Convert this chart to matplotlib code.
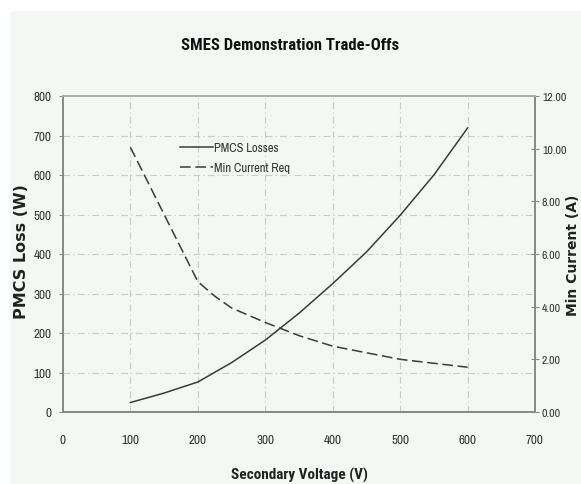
import matplotlib
matplotlib.use("Agg")
import matplotlib.pyplot as plt
from matplotlib.patches import Rectangle

NARROW = ['Archivo Narrow', 'PT Sans Narrow', 'Roboto Condensed', 'DejaVu Sans']
NARROW_BOLD = ['Roboto Condensed', 'PT Sans Narrow', 'DejaVu Sans']

voltage = [100, 150, 200, 250, 300, 350, 400, 450, 500, 550, 600]
pmcs_loss = [24, 48, 76, 125, 182, 250, 325, 405, 498, 600, 719]
cur_v = [100, 200, 225, 250, 300, 350, 400, 450, 500, 550, 600]
min_current = [10.05, 4.95, 4.4, 3.95, 3.4, 2.9, 2.5, 2.25, 2.0, 1.85, 1.7]

x_ticks = [0, 100, 200, 300, 400, 500, 600, 700]
y_ticks = [0, 100, 200, 300, 400, 500, 600, 700, 800]
y2_ticks = [0, 2, 4, 6, 8, 10, 12]

W, H = 581, 485
fig = plt.figure(figsize=(W / 100, H / 100), dpi=100, facecolor='white')
fig.patches.append(Rectangle((10 / W, 0), 1, 1 - 12 / H, transform=fig.transFigure,
                             facecolor='#f4f8f4', edgecolor='none', zorder=-10))

ax = fig.add_axes([63 / W, 1 - 413 / H, (535 - 63) / W, (413 - 97) / H])
ax.set_facecolor('none')
ax2 = ax.twinx()

line_col = '#3a3a3a'
l1, = ax.plot(voltage, pmcs_loss, color=line_col, lw=1.1, label='PMCS Losses')
l2, = ax2.plot(cur_v, min_current, color=line_col, lw=1.1, ls=(0, (7, 3)), label='Min Current Req')

ax.set_xlim(0, 700)
ax.set_ylim(0, 800)
ax2.set_ylim(0, 12)
ax.set_xticks(x_ticks)
ax.set_yticks(y_ticks)
ax2.set_yticks(y2_ticks)
ax.set_xticklabels([str(v) for v in x_ticks], fontfamily=NARROW, fontsize=9.5, color='#333333')
ax.set_yticklabels([str(v) for v in y_ticks], fontfamily=NARROW, fontsize=9.5, color='#333333')
ax2.set_yticklabels(['%.2f' % v for v in y2_ticks], fontfamily=NARROW, fontsize=8.5, color='#333333')

for v in x_ticks[1:-1]:
    ax.axvline(v, color='#c8ccc8', lw=0.8, ls=(0, (6, 3, 1, 3)), zorder=0)
for v in y_ticks[1:-1]:
    ax.axhline(v, color='#c8ccc8', lw=0.8, ls=(0, (6, 3, 1, 3)), zorder=0)

for a in (ax, ax2):
    for s in a.spines.values():
        s.set_color('#8a8a8a')
        s.set_linewidth(1.4)
ax.spines['top'].set_color('#b0b0b0')
ax2.spines['top'].set_color('#b0b0b0')
ax.tick_params(axis='y', length=3, color='#8a8a8a', pad=5)
ax.tick_params(axis='x', length=0, pad=16)
ax2.tick_params(axis='y', direction='inout', length=6, color='#8a8a8a', pad=2)

fig.text(290 / W, 1 - 45 / H, 'SMES Demonstration Trade-Offs', family=NARROW_BOLD,
         fontweight='bold', fontsize=12, color='#111111', ha='center', va='center')
fig.text(299 / W, 1 - 475 / H, 'Secondary Voltage (V)', family=NARROW_BOLD,
         fontweight='bold', fontsize=11, color='#222222', ha='center', va='center')
fig.text(22 / W, 1 - 252 / H, 'PMCS Loss (W)', family='DejaVu Sans', fontweight='bold',
         fontsize=11.5, color='#222222', rotation=90, ha='center', va='center')
fig.text(573 / W, 1 - 255 / H, 'Min Current (A)', family='DejaVu Sans', fontweight='bold',
         fontsize=10, color='#222222', rotation=90, ha='center', va='center')

leg = ax.legend(handles=[l1, l2], loc='upper left', bbox_to_anchor=(0.225, 0.89),
                frameon=False, prop={'family': NARROW, 'size': 9},
                handlelength=2.6, handletextpad=0.1, labelspacing=0.75)
for t in leg.get_texts():
    t.set_color('#333333')

fig.savefig('out.png', dpi=100, facecolor='white')
